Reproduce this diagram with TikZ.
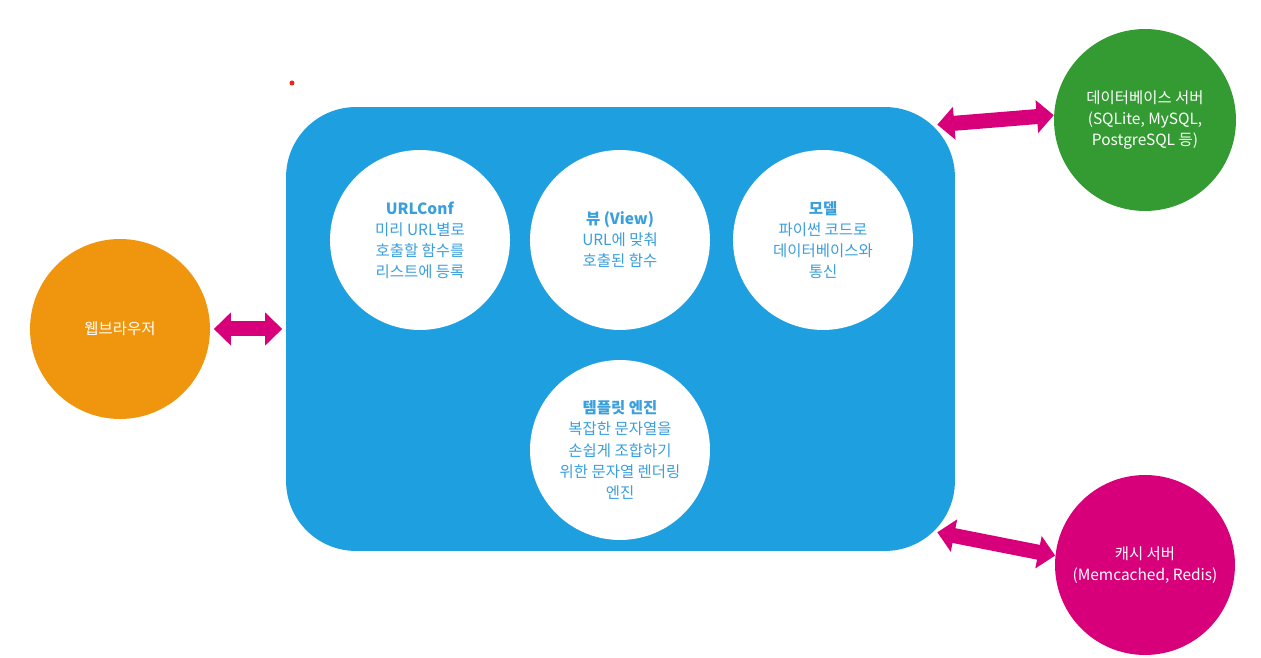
\documentclass[tikz,border=0pt]{standalone}
\usepackage{fontspec}
\setmainfont{Noto Sans CJK KR}
\usetikzlibrary{arrows.meta, positioning, calc}
\definecolor{cblue}{HTML}{1E9FE0}
\definecolor{corange}{HTML}{F0960E}
\definecolor{cgreen}{HTML}{349B33}
\definecolor{cmagenta}{HTML}{D8007A}
\definecolor{ctext}{HTML}{3A9FDD}
\definecolor{cdot}{HTML}{E8261E}
\tikzset{
  every picture/.style={x=0.02cm, y=0.02cm},
  txt/.style={font=\fontsize{8.8}{12}\selectfont, align=center},
  part/.style={txt, circle, fill=white, text=ctext, minimum size=3.6cm, inner sep=0pt},
  server/.style={txt, circle, fill=#1, text=white, minimum size=3.64cm, inner sep=0pt},
  server/.default=cgreen,
  link/.style={{Triangle[width=0.64cm, length=0.34cm]}-{Triangle[width=0.64cm, length=0.34cm]}, draw=cmagenta, line width=0.3cm},
}

\begin{document}
\begin{tikzpicture}
  \useasboundingbox (0,0) rectangle (1261,658);
  % django box and its parts
  \node[fill=cblue, rounded corners=1.4cm, minimum width=13.38cm, minimum height=8.88cm] (django) at (620.5,329) {};
  \node[part] (urlconf) at (420,418) {\textbf{URLConf}\\미리 URL별로\\호출할 함수를\\리스트에 등록};
  \node[part] (view) at (620,418) {\textbf{뷰 (View)}\\URL에 맞춰\\호출된 함수};
  \node[part] (model) at (823,418) {\textbf{모델}\\파이썬 코드로\\데이터베이스와\\통신};
  \node[part] (template) at (620,208) {\textbf{템플릿 엔진}\\복잡한 문자열을\\손쉽게 조합하기\\위한 문자열 렌더링\\엔진};
  % outside
  \node[server=corange, minimum size=3.6cm] (browser) at (120,329) {웹브라우저};
  \node[server=cgreen] (db) at (1145,538) {데이터베이스 서버\\(SQLite, MySQL,\\PostgreSQL 등)};
  \node[server=cmagenta, minimum size=3.6cm] (cache) at (1145,93) {캐시 서버\\(Memcached, Redis)};
  \coordinate (dbport) at ($(django.north east)+(-18,-18)$);
  \coordinate (cacheport) at ($(django.south east)+(-18,19)$);
  \draw[link, shorten <=2pt, shorten >=2pt] (browser.east) -- (django.west);
  \draw[link] (dbport) -- (db.177);
  \draw[link] (cacheport) -- (cache.174);
  \fill[cdot] (292,575) circle (0.05cm);
\end{tikzpicture}
\end{document}
